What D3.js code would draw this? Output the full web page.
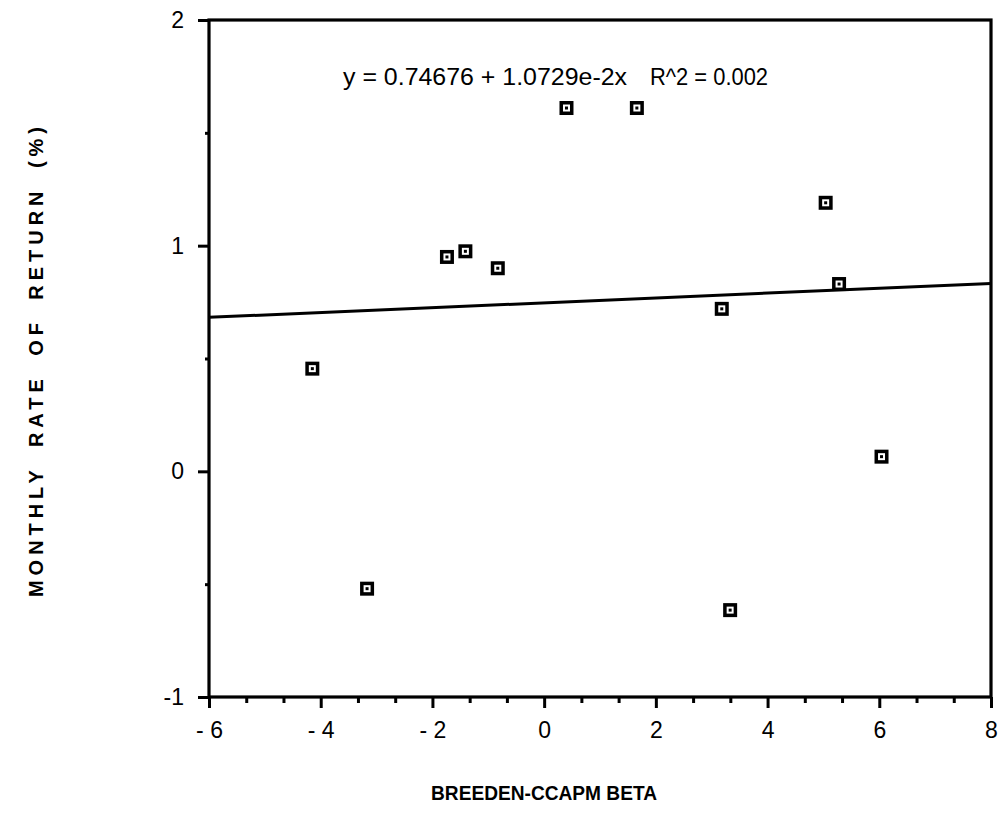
<!DOCTYPE html>
<html lang="en">
<head>
<meta charset="UTF-8">
<title>Breeden CCAPM beta</title>
<script src="https://d3js.org/d3.v7.min.js"></script>
<style>
body { margin: 0; background: #fff; }
svg text { font-family: "Liberation Sans", Arial, sans-serif; fill: #000; }
.axis path, .axis line { stroke: #000; }
</style>
</head>
<body>
<script>
// data
var betas   = [-4.15, -3.17, -1.74, -1.41, -0.83, 0.40, 1.66, 3.18, 3.33, 5.04, 5.28, 6.04];
var returns = [0.455, -0.52, 0.95, 0.975, 0.90, 1.61, 1.61, 0.72, -0.615, 1.19, 0.83, 0.065];
var xTicks = [-6, -4, -2, 0, 2, 4, 6, 8];
var yTicks = [-1, 0, 1, 2];
var fitA = 0.74676, fitB = 1.0729e-2;
var fitEq = "y = 0.74676 + 1.0729e-2x";
var fitR2 = "R^2 = 0.002";

var W = 1002, H = 833;
var mL = 209, mR = 991, mT = 20, mB = 697;

var svg = d3.select("body").append("svg").attr("width", W).attr("height", H);

var x = d3.scaleLinear().domain([-6, 8]).range([mL, mR]);
var y = d3.scaleLinear().domain([-1, 2]).range([mB, mT]);

// minor ticks
var xMinor = d3.range(-6, 8.01, 2 / 3).filter(function(d) { return Math.abs(Math.round(d / 2) * 2 - d) > 0.01; });
var yMinor = [-0.5, 0.5, 1.5];

svg.append("g").attr("class", "axis")
  .attr("transform", "translate(0," + mB + ")")
  .call(d3.axisBottom(x).tickValues(xMinor).tickSize(6).tickFormat(""))
  .call(function(g) { g.select(".domain").remove(); g.selectAll("line").attr("stroke-width", 3); });

svg.append("g").attr("class", "axis")
  .attr("transform", "translate(" + mL + ",0)")
  .call(d3.axisLeft(y).tickValues(yMinor).tickSize(4).tickFormat(""))
  .call(function(g) { g.select(".domain").remove(); g.selectAll("line").attr("stroke-width", 3); });

var xAxis = svg.append("g").attr("class", "axis")
  .attr("transform", "translate(0," + mB + ")")
  .call(d3.axisBottom(x).tickValues(xTicks).tickSize(11).tickPadding(14)
    .tickFormat(function(d) { return d < 0 ? "- " + Math.abs(d) : d; }));
xAxis.select(".domain").remove();
xAxis.selectAll("line").attr("stroke-width", 3);
xAxis.selectAll("text").attr("font-size", 23).attr("fill", "#000")
  .style("white-space", "pre");

var yAxis = svg.append("g").attr("class", "axis")
  .attr("transform", "translate(" + mL + ",0)")
  .call(d3.axisLeft(y).tickValues(yTicks).tickSize(11).tickPadding(14)
    .tickFormat(function(d) { return d < 0 ? "-" + Math.abs(d) : d; }));
yAxis.select(".domain").remove();
yAxis.selectAll("line").attr("stroke-width", 3);
yAxis.selectAll("text").attr("font-size", 23).attr("fill", "#000");

// frame
svg.append("rect")
  .attr("x", mL).attr("y", mT)
  .attr("width", mR - mL).attr("height", mB - mT)
  .attr("fill", "none").attr("stroke", "#000").attr("stroke-width", 3.2);

// regression line
svg.append("line")
  .attr("x1", x(-6)).attr("y1", y(fitA + fitB * -6))
  .attr("x2", x(8)).attr("y2", y(fitA + fitB * 8))
  .attr("stroke", "#000").attr("stroke-width", 3);

// points
var pts = svg.append("g").selectAll("g")
  .data(betas.map(function(b, i) { return [b, returns[i]]; }))
  .enter().append("g")
  .attr("transform", function(d) { return "translate(" + x(d[0]) + "," + y(d[1]) + ")"; });
pts.append("rect")
  .attr("x", -5.25).attr("y", -5.25).attr("width", 10.5).attr("height", 10.5)
  .attr("fill", "#fff").attr("stroke", "#000").attr("stroke-width", 3.5);
pts.append("rect")
  .attr("x", -1.5).attr("y", -1.5).attr("width", 3).attr("height", 3)
  .attr("fill", "#000");

// fit label
svg.append("text")
  .attr("x", 343).attr("y", 85)
  .attr("font-size", 23.5)
  .attr("textLength", 284).attr("lengthAdjust", "spacingAndGlyphs")
  .text(fitEq);
svg.append("text")
  .attr("x", 650).attr("y", 85)
  .attr("font-size", 23.5)
  .attr("textLength", 118).attr("lengthAdjust", "spacingAndGlyphs")
  .text(fitR2);

// axis titles
svg.append("text")
  .attr("x", 544).attr("y", 800)
  .attr("text-anchor", "middle")
  .attr("font-size", 20).attr("font-weight", "bold")
  .attr("textLength", 226).attr("lengthAdjust", "spacingAndGlyphs")
  .text("BREEDEN-CCAPM BETA");

svg.append("text")
  .attr("transform", "translate(43,362) rotate(-90)")
  .attr("text-anchor", "middle")
  .attr("font-size", 20).attr("font-weight", "bold")
  .attr("word-spacing", 8)
  .attr("textLength", 470).attr("lengthAdjust", "spacing")
  .text("MONTHLY RATE OF RETURN (%)");
</script>
</body>
</html>
